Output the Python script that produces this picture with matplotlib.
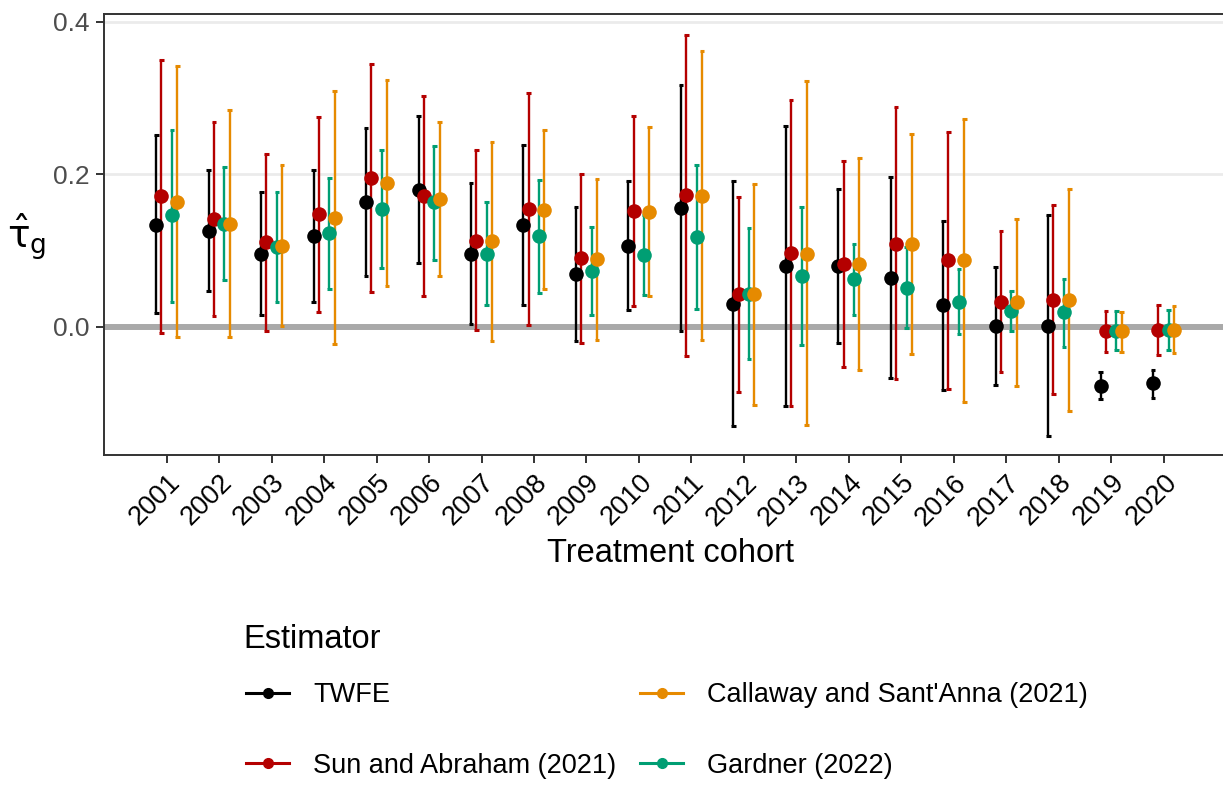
import numpy as np
import matplotlib
matplotlib.use("Agg")
import matplotlib.pyplot as plt
from matplotlib.lines import Line2D

plt.rcParams['font.family'] = ['Liberation Sans', 'DejaVu Sans']
plt.rcParams['mathtext.fontset'] = 'dejavusans'

# --- data ---
years = list(range(2001, 2021))

twfe_est = [0.134, 0.126, 0.095, 0.119, 0.163, 0.180, 0.095, 0.133, 0.069, 0.106,
            0.156, 0.030, 0.080, 0.080, 0.064, 0.028, 0.0015, 0.0015, -0.077, -0.074]
twfe_lo = [0.018, 0.047, 0.015, 0.032, 0.066, 0.084, 0.004, 0.028, -0.019, 0.022,
           -0.005, -0.130, -0.104, -0.021, -0.067, -0.083, -0.076, -0.143, -0.095, -0.093]
twfe_hi = [0.251, 0.205, 0.177, 0.206, 0.260, 0.277, 0.188, 0.238, 0.157, 0.191,
           0.317, 0.191, 0.263, 0.181, 0.196, 0.139, 0.078, 0.146, -0.059, -0.056]

sa_est = [0.171, 0.141, 0.111, 0.148, 0.195, 0.171, 0.113, 0.154, 0.090, 0.152,
          0.173, 0.043, 0.097, 0.082, 0.109, 0.088, 0.033, 0.035, -0.006, -0.004]
sa_lo = [-0.008, 0.014, -0.005, 0.020, 0.046, 0.041, -0.004, 0.003, -0.021, 0.027,
         -0.038, -0.085, -0.104, -0.053, -0.069, -0.081, -0.059, -0.088, -0.033, -0.037]
sa_hi = [0.350, 0.269, 0.226, 0.275, 0.344, 0.302, 0.232, 0.306, 0.200, 0.277,
         0.383, 0.170, 0.298, 0.217, 0.288, 0.255, 0.125, 0.160, 0.021, 0.029]

gard_est = [0.146, 0.135, 0.105, 0.123, 0.154, 0.163, 0.095, 0.119, 0.073, 0.094,
            0.118, 0.043, 0.067, 0.063, 0.051, 0.033, 0.021, 0.019, -0.005, -0.004]
gard_lo = [0.033, 0.061, 0.033, 0.050, 0.077, 0.088, 0.028, 0.045, 0.016, 0.042,
           0.024, -0.042, -0.024, 0.016, -0.002, -0.010, -0.005, -0.026, -0.031, -0.030]
gard_hi = [0.258, 0.209, 0.177, 0.195, 0.232, 0.237, 0.163, 0.193, 0.131, 0.146,
           0.212, 0.130, 0.157, 0.109, 0.105, 0.076, 0.047, 0.063, 0.021, 0.022]

cs_est = [0.164, 0.135, 0.106, 0.143, 0.189, 0.168, 0.112, 0.153, 0.089, 0.151,
          0.172, 0.043, 0.096, 0.082, 0.109, 0.087, 0.033, 0.035, -0.006, -0.004]
cs_lo = [-0.013, -0.013, 0.0015, -0.023, 0.054, 0.067, -0.019, 0.049, -0.017, 0.040,
         -0.017, -0.102, -0.129, -0.056, -0.035, -0.098, -0.077, -0.110, -0.033, -0.034]
cs_hi = [0.342, 0.284, 0.212, 0.309, 0.324, 0.269, 0.242, 0.258, 0.194, 0.262,
         0.362, 0.187, 0.322, 0.221, 0.253, 0.273, 0.142, 0.181, 0.019, 0.027]

# name, est, lo, hi, colour, dodge offset (drawing order)
series = [
    ("TWFE", twfe_est, twfe_lo, twfe_hi, "#000000", -0.2),
    ("Sun and Abraham (2021)", sa_est, sa_lo, sa_hi, "#B40000", -0.1),
    ("Gardner (2022)", gard_est, gard_lo, gard_hi, "#009E73", 0.1),
    ("Callaway and Sant'Anna (2021)", cs_est, cs_lo, cs_hi, "#E68A00", 0.2),
]
cap_half = 0.045  # errorbar cap half-width, in x units

W, H = 1223, 785
fig = plt.figure(figsize=(W / 100, H / 100), dpi=100)
ax = fig.add_axes([104 / W, 1 - 455 / H, (1225 - 104) / W, (455 - 14.3) / H])

# grid + zero line
for yv in [0.2, 0.4]:
    ax.axhline(yv, color="#EBEBEB", lw=2.0, zorder=0)
ax.axhline(0, color="#A9A9A9", lw=4.3, zorder=1)

x = np.array(years, dtype=float)
for i, (name, est, lo, hi, col, off) in enumerate(series):
    xs = x + off
    ax.vlines(xs, lo, hi, color=col, lw=1.7, zorder=2 + i)
    ax.hlines(lo, xs - cap_half, xs + cap_half, color=col, lw=2.2, zorder=2 + i)
    ax.hlines(hi, xs - cap_half, xs + cap_half, color=col, lw=2.2, zorder=2 + i)
for i, (name, est, lo, hi, col, off) in enumerate(series):
    ax.plot(x + off, est, "o", color=col, ms=10.5, mec="none", zorder=10 + i)

ax.set_xlim(1999.805, 2021.17)
ax.set_ylim(-0.168, 0.4097)
ax.set_xticks(years)
ax.set_xticklabels([str(y) for y in years], rotation=45, ha="right", va="top",
                   rotation_mode="anchor", fontsize=19.5, color="black")
ax.set_yticks([0.0, 0.2, 0.4])
ax.set_yticklabels(["0.0", "0.2", "0.4"], fontsize=19, color="#4D4D4D")
ax.tick_params(axis="both", length=5.5, width=1.4, color="#333333", pad=5)
for sp in ax.spines.values():
    sp.set_color("#333333")
    sp.set_linewidth(1.4)

ax.set_xlabel("Treatment cohort", fontsize=23.5, va="center")
ax.xaxis.set_label_coords(0.505, -0.2224)
ax.set_ylabel(r"$\hat{\mathrm{\tau}}_\mathrm{g}$", fontsize=27, rotation=0,
              va="center", ha="center")
ax.yaxis.set_label_coords(-0.069, 0.495)

# legend
fig.text(243 / W, 1 - 640 / H, "Estimator", fontsize=23.5, ha="left", va="center")
leg_order = [0, 1, 3, 2]
handles = [Line2D([], [], color=series[k][4], lw=2.2, marker="o", ms=7) for k in leg_order]
labels = [series[k][0] for k in leg_order]
fig.legend(handles, labels, ncol=2, loc="upper left", bbox_to_anchor=(246 / W, 1 - 682 / H),
           frameon=False, fontsize=19.5, handlelength=1.6, handletextpad=0.87,
           columnspacing=0.88, labelspacing=1.65, borderpad=0, borderaxespad=0)

fig.savefig("out.png", dpi=100)
